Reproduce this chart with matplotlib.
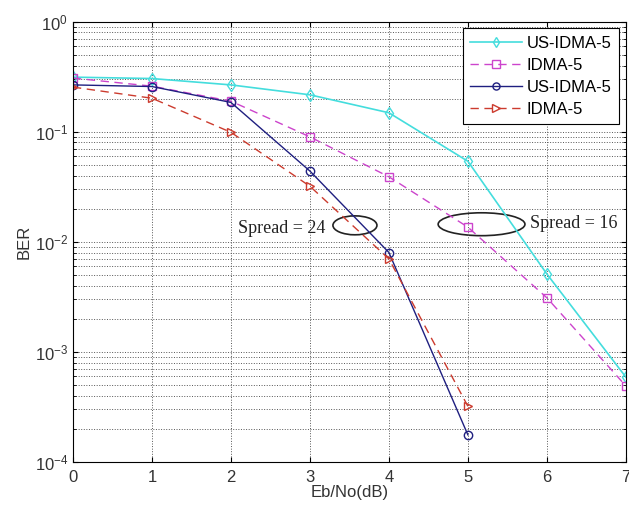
import matplotlib
matplotlib.use('Agg')
import matplotlib.pyplot as plt
from matplotlib.patches import Ellipse

# Eb/No values (dB)
snr_16 = [0, 1, 2, 3, 4, 5, 6, 7]
snr_24 = [0, 1, 2, 3, 4, 5]

# BER curves
us_idma_16 = [0.314, 0.305, 0.267, 0.217, 0.149, 0.054, 0.0051, 0.00059]
idma_16 = [0.308, 0.26, 0.19, 0.09, 0.039, 0.0136, 0.0031, 0.00049]
us_idma_24 = [0.267, 0.258, 0.185, 0.044, 0.008, 0.000176]
idma_24 = [0.255, 0.202, 0.099, 0.032, 0.007, 0.00032]

labels = ['US-IDMA-5', 'IDMA-5', 'US-IDMA-5', 'IDMA-5']

plt.rcParams['font.family'] = ['Liberation Sans', 'DejaVu Sans']

fig = plt.figure(figsize=(6.29, 5.07), dpi=100)
ax = fig.add_axes([0.116, 0.089, 0.879, 0.868])

ax.semilogy(snr_16, us_idma_16, '-', color='#44dddd', marker='d', mfc='none',
            ms=6, lw=1.2, label=labels[0])
ax.semilogy(snr_16, idma_16, '--', color='#cc44cc', marker='s', mfc='none',
            ms=6, lw=1, dashes=(6, 4), label=labels[1])
ax.semilogy(snr_24, us_idma_24, '-', color='#1f1f80', marker='o', mfc='none',
            ms=6, lw=1, label=labels[2])
ax.semilogy(snr_24, idma_24, '--', color='#cc3b2e', marker='>', mfc='none',
            ms=6, lw=1, dashes=(6, 4), label=labels[3])

ax.set_xlim(0, 7)
ax.set_ylim(1e-4, 1)
ax.set_xticks(range(8))
ax.grid(True, which='major', linestyle=':', color='#555555', lw=0.7)
ax.grid(True, which='minor', axis='y', linestyle=':', color='#555555', lw=0.7)
ax.tick_params(which='both', direction='in', top=True, right=True, labelsize=12,
               labelcolor='#333333')
ax.tick_params(axis='x', pad=6)

ax.set_xlabel('Eb/No(dB)', fontsize=12, labelpad=0, color='#333333')
ax.set_ylabel('BER', fontsize=12, labelpad=2, color='#333333')

# spread annotations
ax.add_patch(Ellipse((0.51, 0.5375), 0.0796, 0.043, transform=ax.transAxes,
                     fill=False, ec='#222222', lw=1.2))
ax.add_patch(Ellipse((0.739, 0.54), 0.157, 0.052, transform=ax.transAxes,
                     fill=False, ec='#222222', lw=1.2))
ax.text(0.298, 0.5305, 'Spread = 24', transform=ax.transAxes, va='center',
        family='Liberation Serif', fontsize=13, color='#222222')
ax.text(0.826, 0.542, 'Spread = 16', transform=ax.transAxes, va='center',
        family='Liberation Serif', fontsize=13, color='#222222')

leg = ax.legend(loc='upper right', fontsize=12, handlelength=3.1,
                fancybox=False, framealpha=1, edgecolor='black',
                borderaxespad=0.4, labelspacing=0.42, borderpad=0.45,
                handletextpad=0.3, markerscale=0.85)
leg.get_frame().set_linewidth(0.8)

fig.savefig('out.png', dpi=100)
